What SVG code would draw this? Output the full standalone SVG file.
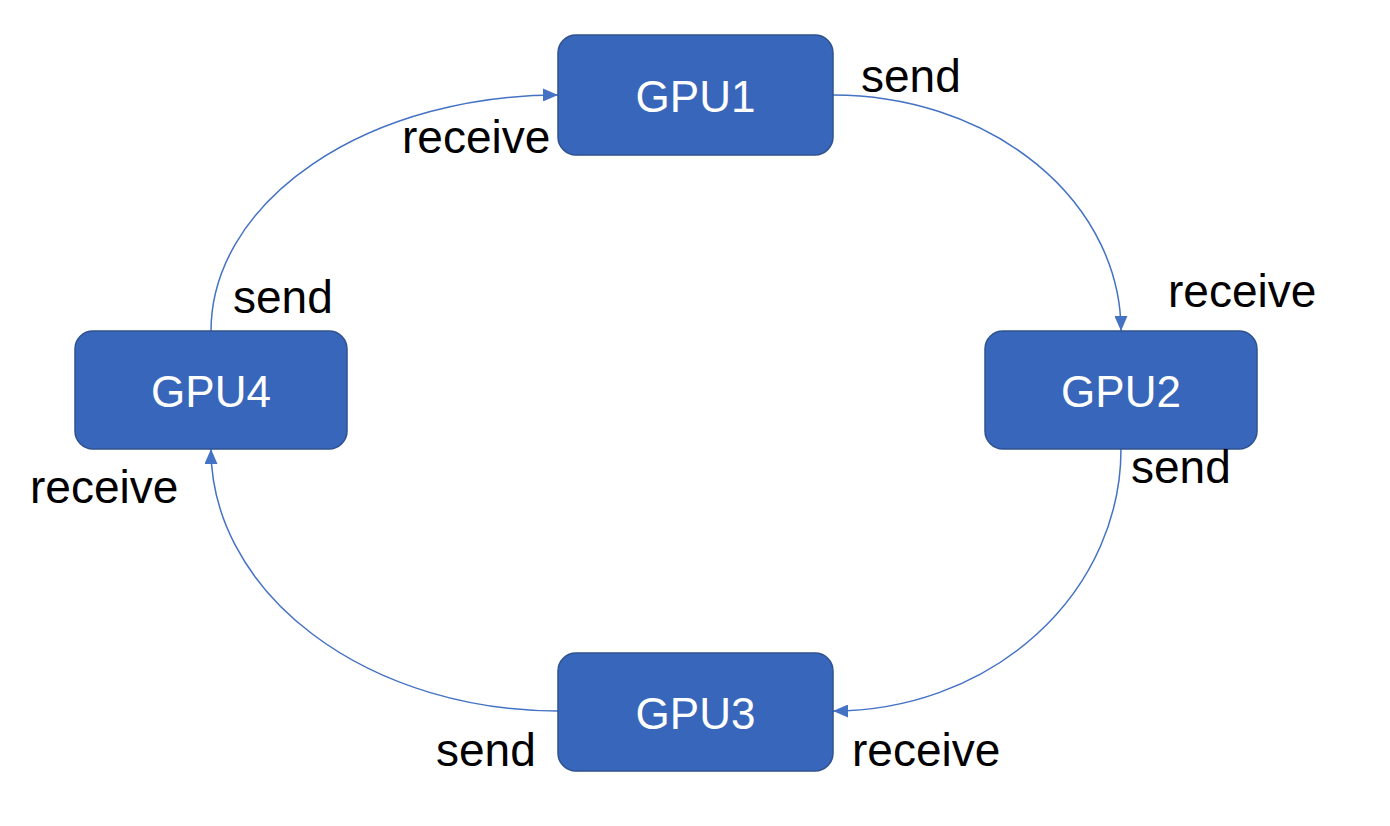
<svg xmlns="http://www.w3.org/2000/svg" width="1390" height="826" viewBox="0 0 1390 826">
<style>
.box{fill:#3866BA;stroke:#2F528F;stroke-width:1.5}
.gl{font-family:"Liberation Sans",Arial,sans-serif;font-size:44px;fill:#FFFFFF;text-anchor:middle}
.lb{font-family:"Liberation Sans",Arial,sans-serif;font-size:46px;fill:#000000}
.cn{fill:none;stroke:#4472C4;stroke-width:1.5}
</style>
<defs>
<marker id="ah" viewBox="0 0 15 13" refX="15" refY="6.5" markerWidth="15" markerHeight="13" markerUnits="userSpaceOnUse" orient="auto">
<path d="M0,0 L15,6.5 L0,13 z" fill="#4472C4"/>
</marker>
</defs>
<rect width="1390" height="826" fill="#FFFFFF"/>
<g id="connectors">
<path class="cn" d="M833,95 A288,236 0 0 1 1121,331" marker-end="url(#ah)"/>
<path class="cn" d="M1121,449 A288,262 0 0 1 833,711" marker-end="url(#ah)"/>
<path class="cn" d="M558,711 A347,262 0 0 1 211,449" marker-end="url(#ah)"/>
<path class="cn" d="M211,331 A347,236 0 0 1 558,95" marker-end="url(#ah)"/>
</g>
<g id="gpu1">
<rect class="box" x="558" y="35" width="275" height="120" rx="18"/>
<text class="gl" x="695.5" y="112">GPU1</text>
</g>
<g id="gpu2">
<rect class="box" x="985" y="331" width="272" height="118" rx="18"/>
<text class="gl" x="1121" y="407">GPU2</text>
</g>
<g id="gpu3">
<rect class="box" x="558" y="653" width="275" height="118" rx="18"/>
<text class="gl" x="695.5" y="729">GPU3</text>
</g>
<g id="gpu4">
<rect class="box" x="75" y="331" width="272" height="118" rx="18"/>
<text class="gl" x="211" y="407">GPU4</text>
</g>
<g id="labels">
<text class="lb" x="861" y="92">send</text>
<text class="lb" x="402" y="153">receive</text>
<text class="lb" x="1168" y="307">receive</text>
<text class="lb" x="1131" y="483">send</text>
<text class="lb" x="233" y="313">send</text>
<text class="lb" x="30" y="503">receive</text>
<text class="lb" x="436" y="766">send</text>
<text class="lb" x="852" y="766">receive</text>
</g>
</svg>
